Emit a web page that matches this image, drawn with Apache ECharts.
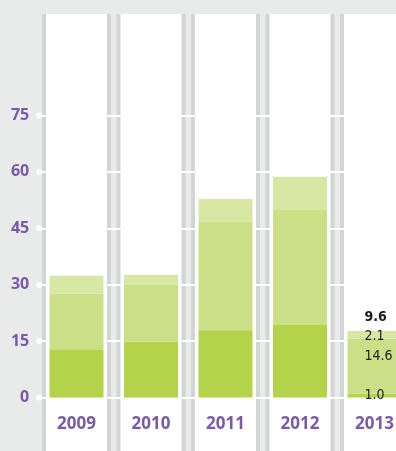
<!DOCTYPE html>
<html>
<head>
<meta charset="utf-8">
<script src="https://cdn.jsdelivr.net/npm/echarts@6/dist/echarts.min.js"></script>
<style>
  html, body { margin: 0; padding: 0; background: #e9eaea; }
  #chart { width: 396px; height: 451px; }
</style>
</head>
<body>
<div id="chart"></div>
<script>
// Years on the category axis
const years = ['2009', '2010', '2011', '2012', '2013'];

// Stacked segments, bottom to top
const baseSegment = [12.6, 14.8, 17.9, 19.3, 1.0];
const midSegment = [15.0, 15.1, 28.9, 30.6, 14.6];
const topSegment = [4.8, 2.7, 6.0, 8.8, 2.1];

// Value-axis labels and the guide lines drawn at them
const yTicks = [0, 15, 30, 45, 60, 75];

// Figure written above the last bar
const noteIndex = 4;
const noteValue = 9.6;

// Column sheets behind each year (reach above the plot and below the baseline)
const sheetTop = [102, 102, 102, 102, 102];
const sheetBottom = [-15, -15, -15, -15, -15];

const PURPLE = '#7b59a8';
const COLORS = ['#b3d34a', '#cbdf86', '#d8e8a4'];

// Plot geometry: value range and the grid that holds it
const Y_MIN = -15, Y_MAX = 105, Y_STEP = 15;
const GRID_TOP = 2.7, GRID_BOTTOM = -2.9, CHART_H = 451;
const pxPerUnit = (CHART_H - GRID_TOP - GRID_BOTTOM) / (Y_MAX - Y_MIN);
// Year labels sit on the zero line rather than at the foot of the grid
const zeroLift = -(0 - Y_MIN) * pxPerUnit;

const chart = echarts.init(document.getElementById('chart'), null, { renderer: 'canvas' });

const LABEL_FONT = 'DejaVu Sans Condensed, DejaVu Sans, sans-serif';

const labelBase = {
  show: false,
  position: 'inside',
  align: 'left',
  offset: [-10, 0],
  fontFamily: LABEL_FONT,
  fontSize: 14,
  color: '#222222',
  formatter: p => Number(p.value).toFixed(1)
};

function segmentSeries(name, values, color, dy) {
  return {
    name: name,
    type: 'bar',
    xAxisIndex: 0,
    yAxisIndex: 0,
    stack: 'total',
    barWidth: 54,
    z: 10,
    itemStyle: { color: color },
    label: Object.assign({}, labelBase, { offset: [-10, dy] }),
    data: values.map((v, i) => i === noteIndex ? { value: v, label: { show: true } } : v),
    animation: false
  };
}

function sheetSeries(axis, stack, width, color, values, z) {
  return {
    type: 'bar',
    xAxisIndex: axis,
    yAxisIndex: 0,
    stack: stack,
    barWidth: width,
    z: z,
    silent: true,
    itemStyle: { color: color },
    data: values,
    animation: false
  };
}

const totals = baseSegment.map((v, i) => v + midSegment[i] + topSegment[i]);

// Helper axes that only carry the column sheets
const hiddenAxis = () => ({
  type: 'category',
  data: years,
  show: false,
  axisLine: { onZero: false }
});

const topSeries = segmentSeries('top', topSegment, COLORS[2], 1);
topSeries.markPoint = {
  silent: true,
  symbol: 'rect',
  symbolSize: 1,
  itemStyle: { color: 'rgba(0,0,0,0)' },
  label: {
    show: true,
    position: 'inside',
    align: 'left',
    offset: [-10, -14],
    fontFamily: LABEL_FONT,
    fontSize: 14,
    fontWeight: 'bold',
    color: '#1a1a1a',
    formatter: p => Number(p.value).toFixed(1)
  },
  data: [{ coord: [noteIndex, totals[noteIndex]], value: noteValue }]
};

const whiteSheet = sheetSeries(2, 'sheet', 61, '#ffffff', sheetTop, 2);
whiteSheet.markLine = {
  silent: true,
  z: 4,
  symbol: ['circle', 'none'],
  symbolSize: 6,
  label: { show: false },
  lineStyle: { color: '#ffffff', width: 2, type: 'solid' },
  emphasis: { disabled: true },
  data: yTicks.map(t => ({ yAxis: t })),
  animation: false
};

chart.setOption({
  backgroundColor: '#e9eaea',
  animation: false,
  grid: {
    left: 39.25,
    right: -15.75,
    top: GRID_TOP,
    bottom: GRID_BOTTOM,
    containLabel: false,
    outerBoundsMode: 'none'
  },
  xAxis: [
    {
      type: 'category',
      data: years,
      position: 'bottom',
      offset: zeroLift,
      z: 20,
      axisLine: { show: false, onZero: false },
      axisTick: { show: false },
      splitLine: { show: false },
      axisLabel: {
        margin: 18,
        color: PURPLE,
        fontFamily: 'Open Sans, sans-serif',
        fontWeight: 'bold',
        fontSize: 17
      }
    },
    hiddenAxis(),
    hiddenAxis()
  ],
  yAxis: {
    type: 'value',
    min: Y_MIN,
    max: Y_MAX,
    interval: Y_STEP,
    z: 20,
    axisLine: { show: false },
    axisTick: { show: false },
    splitLine: { show: false },
    axisLabel: {
      margin: 10,
      color: PURPLE,
      fontFamily: 'Open Sans, sans-serif',
      fontWeight: 'bold',
      fontSize: 16,
      formatter: v => yTicks.indexOf(v) >= 0 ? String(v) : ''
    }
  },
  series: [
    sheetSeries(1, 'frame', 69, '#d3d4d4', sheetTop, 1),
    sheetSeries(1, 'frame', 69, '#d3d4d4', sheetBottom, 1),
    whiteSheet,
    sheetSeries(2, 'sheet', 61, '#ffffff', sheetBottom, 2),
    segmentSeries('base', baseSegment, COLORS[0], 0),
    segmentSeries('mid', midSegment, COLORS[1], -10),
    topSeries
  ]
});
</script>
</body>
</html>
